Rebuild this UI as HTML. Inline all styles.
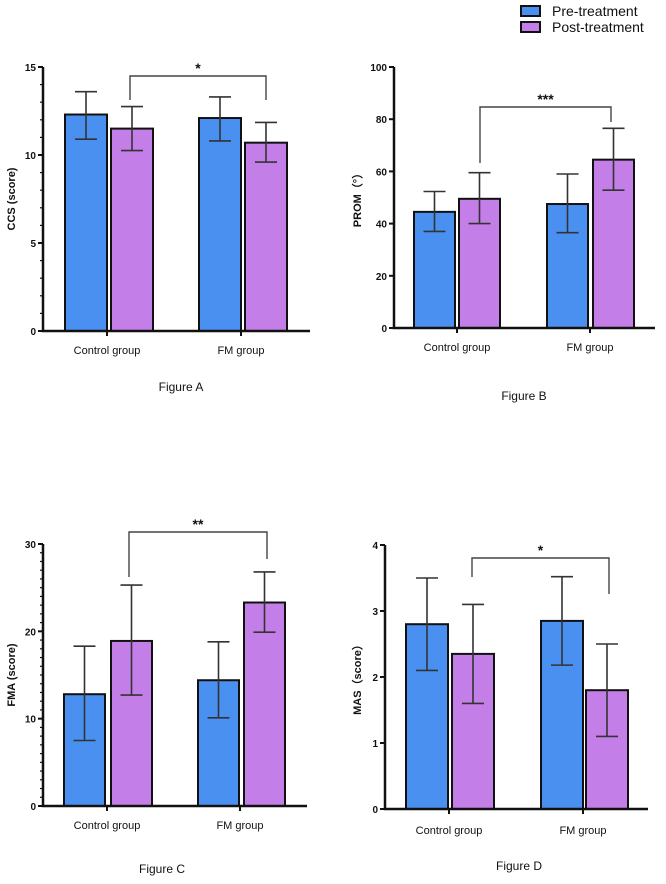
<!DOCTYPE html>
<html><head><meta charset="utf-8"><style>
html,body{margin:0;padding:0;background:#fff}
svg{display:block;font-family:"Liberation Sans",Arial,sans-serif}
</style></head><body>
<svg id="c" width="666" height="884" viewBox="0 0 666 884">
<g>
<rect x="521" y="6" width="19" height="10" fill="#4a90f0" stroke="#111" stroke-width="2"/>
<text x="552" y="16" font-size="14" fill="#111">Pre-treatment</text>
<rect x="521" y="22" width="19" height="10" fill="#c47ee8" stroke="#111" stroke-width="2"/>
<text x="552" y="32" font-size="14" fill="#111">Post-treatment</text>
</g>
</svg>
<script>
const categories=["Control group","FM group"];
const preA=[12.3,12.1], preAErr=[[13.6,10.9],[13.3,10.8]];
const postA=[11.5,10.7], postAErr=[[12.75,10.25],[11.85,9.6]];
const preB=[44.5,47.5], preBErr=[[52.3,37],[59,36.5]];
const postB=[49.5,64.5], postBErr=[[59.5,40],[76.5,52.8]];
const preC=[12.8,14.4], preCErr=[[18.3,7.5],[18.8,10.1]];
const postC=[18.9,23.3], postCErr=[[25.3,12.7],[26.8,19.9]];
const preD=[2.8,2.85], preDErr=[[3.5,2.1],[3.52,2.18]];
const postD=[2.35,1.8], postDErr=[[3.1,1.6],[2.5,1.1]];
const ticksA=[0,5,10,15], ticksB=[0,20,40,60,80,100], ticksC=[0,10,20,30], ticksD=[0,1,2,3,4];
const sigA="*", sigB="***", sigC="**", sigD="*";

const NS="http://www.w3.org/2000/svg";
const svg=document.getElementById('c');
function el(tag,attrs,parent){const e=document.createElementNS(NS,tag);for(const k in attrs)e.setAttribute(k,attrs[k]);(parent||svg).appendChild(e);return e;}

function panel(p){
  const g=el('g',{});
  
  
  const ymax=p.ticks[p.ticks.length-1];
  const y=v=>p.y0-(v/ymax)*(p.y0-p.yTop);
  // bars
  for(let i=0;i<2;i++){
    const series=[[p.pre,p.preErr,'#4a90f0',p.barsX[i][0],'pre'],[p.post,p.postErr,'#c47ee8',p.barsX[i][1],'post']];
    series.forEach(s=>{
      const v=s[0][i], e=s[1][i], x=s[3], w=p.bw;
      const r=el('rect',{x:x,y:y(v),width:w,height:p.y0-y(v),fill:s[2],stroke:'#111','stroke-width':2},g);
      
      
      const cx=x+w/2;
      const eb=el('path',{d:`M${cx},${y(e[0])}V${y(e[1])}M${cx-11},${y(e[0])}H${cx+11}M${cx-11},${y(e[1])}H${cx+11}`,stroke:'#333','stroke-width':1.6,fill:'none'},g);
      
      
    });
  }
  // axes
  const ax=el('path',{d:`M${p.x0},${p.yTop}V${p.y0}H${p.xEnd}`,stroke:'#111','stroke-width':2.5,fill:'none'},g);
  
  
  // ticks
  p.ticks.forEach(t=>{
    el('line',{x1:p.x0-5,x2:p.x0,y1:y(t),y2:y(t),stroke:'#111','stroke-width':2},g);
    const tl=el('text',{x:p.x0-7,y:y(t)+4,'font-size':10,'font-weight':'bold','text-anchor':'end',fill:'#111'},g);
    tl.textContent=t;
    
    
  });
  if(p.minor){for(let v=0;v<=ymax;v+=p.minor){el('line',{x1:p.x0-3,x2:p.x0,y1:y(v),y2:y(v),stroke:'#111','stroke-width':1.2},g);}}
  // category ticks + labels
  for(let i=0;i<2;i++){
    el('line',{x1:p.catX[i],x2:p.catX[i],y1:p.y0,y2:p.y0+5,stroke:'#111','stroke-width':2},g);
    const cl=el('text',{x:p.catX[i],y:p.catY,'font-size':11,'text-anchor':'middle',fill:'#111'},g);
    cl.textContent=categories[i];
    
    
  }
  // y title
  const yt=el('text',{x:0,y:0,'font-size':11,'font-weight':'bold','text-anchor':'middle',fill:'#111',transform:`translate(${p.ytX},${(p.y0+p.yTop)/2}) rotate(-90)`},g);
  yt.textContent=p.ytitle;
  
  
  // bracket
  const b=p.br;
  const br=el('path',{d:`M${b[0]},${b[1]}V${b[2]}H${b[3]}V${b[4]}`,stroke:'#444','stroke-width':1.4,fill:'none'},g);
  
  
  const st=el('text',{x:(b[0]+b[3])/2,y:b[2]-3,'font-size':14,'font-weight':'bold','text-anchor':'middle',fill:'#111'},g);
  st.textContent=p.sig;
  
  
  // figure label
  const fl=el('text',{x:p.fig[0],y:p.fig[1],'font-size':12,'text-anchor':'middle',fill:'#111'},g);
  fl.textContent=p.figText;
  
  
}

panel({id:'panel-a-ccs',x0:43,xEnd:310,y0:331,yTop:67,ticks:ticksA,minor:1,bw:42,barsX:[[65,111],[199,245]],
  pre:preA,preErr:preAErr,post:postA,postErr:postAErr,catX:[107,241],catY:354,ytitle:'CCS  (score)',ytX:15,
  br:[130,100,76,266,100],sig:sigA,fig:[181,391],figText:'Figure A'});
panel({id:'panel-b-prom',x0:394,xEnd:655,y0:328,yTop:67,ticks:ticksB,minor:0,bw:41,barsX:[[414,459],[547,593]],
  pre:preB,preErr:preBErr,post:postB,postErr:postBErr,catX:[457,590],catY:351,ytitle:'PROM（°）',ytX:361,
  br:[480,163,107,611,122],sig:sigB,fig:[524,400],figText:'Figure B'});
panel({id:'panel-c-fma',x0:43,xEnd:307,y0:806,yTop:544,ticks:ticksC,minor:1,bw:41,barsX:[[64,111],[198,244]],
  pre:preC,preErr:preCErr,post:postC,postErr:postCErr,catX:[107,240],catY:829,ytitle:'FMA  (score)',ytX:15,
  br:[129,577,532,267,559],sig:sigC,fig:[162,873],figText:'Figure C'});
panel({id:'panel-d-mas',x0:385,xEnd:648,y0:809,yTop:545,ticks:ticksD,minor:0,bw:42,barsX:[[406,452],[541,586]],
  pre:preD,preErr:preDErr,post:postD,postErr:postDErr,catX:[449,583],catY:834,ytitle:'MAS（score）',ytX:361,
  br:[472,577,558,609,594],sig:sigD,fig:[519,870],figText:'Figure D'});
</script>
</body></html>
